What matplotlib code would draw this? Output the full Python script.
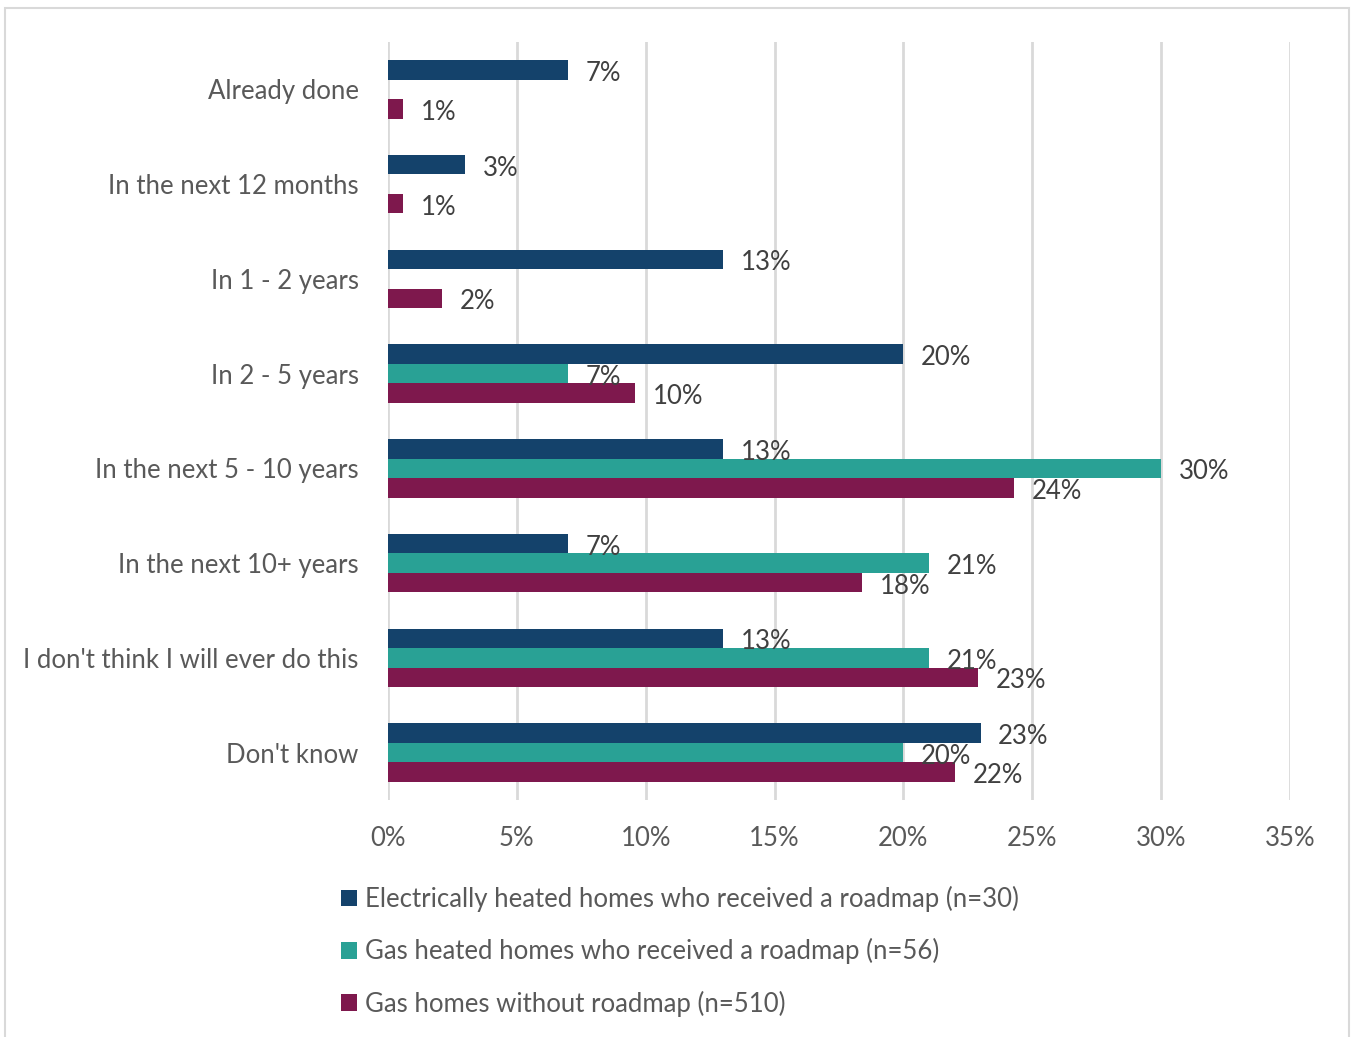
import numpy as np
import matplotlib.pyplot as plt
from matplotlib.patches import Rectangle

# survey answers: when do people expect to switch heating system
categories = ["Already done", "In the next 12 months", "In 1 - 2 years", "In 2 - 5 years",
              "In the next 5 - 10 years", "In the next 10+ years",
              "I don't think I will ever do this", "Don't know"]

electric_roadmap = [7, 3, 13, 20, 13, 7, 13, 23]
gas_roadmap = [np.nan, np.nan, np.nan, 7, 30, 21, 21, 20]   # no answers for the first three
gas_no_roadmap = [0.6, 0.6, 2.1, 9.6, 24.3, 18.4, 22.9, 22.0]

series_names = ["Electrically heated homes who received a roadmap (n=30)",
                "Gas heated homes who received a roadmap (n=56)",
                "Gas homes without roadmap (n=510)"]
colors = ["#14426B", "#29A195", "#7E184D"]

plt.rcParams['font.family'] = ['Lato', 'DejaVu Sans']
fs = 18.5
label_col = "#595959"
value_col = "#404040"

fig = plt.figure(figsize=(13.52, 10.37), dpi=100)
ax = fig.add_axes([388/1352, 1 - 800/1037, (1290 - 388)/1352, (800 - 42)/1037])

y = np.arange(len(categories))
h = 0.2055
bars = []
for k, (vals, col) in enumerate(zip([electric_roadmap, gas_roadmap, gas_no_roadmap], colors)):
    pos = y + (k - 1) * h
    b = ax.barh(pos, vals, height=h, color=col, label=series_names[k])
    bars.append(b)
    for p, v in zip(pos, vals):
        if np.isnan(v):
            continue
        ax.annotate(f"{v:.0f}%", (v, p), xytext=(12.5, -2.5), textcoords="offset points",
                    va="center", ha="left", fontsize=fs, color=value_col)

ax.set_xlim(0, 35)
ax.set_ylim(len(categories) - 0.5, -0.5)
ax.set_xticks(np.arange(0, 36, 5))
ax.set_xticklabels([f"{t}%" for t in range(0, 36, 5)])
ax.set_yticks(y)
ax.set_yticklabels(categories)
ax.tick_params(axis="both", length=0, labelsize=fs, labelcolor=label_col)
ax.tick_params(axis="x", pad=19)
ax.tick_params(axis="y", pad=21)

ax.grid(axis="x", color="#D9D9D9", linewidth=2)
ax.set_axisbelow(True)
for s in ax.spines.values():
    s.set_visible(False)

leg = ax.legend(handles=bars, loc="upper left", bbox_to_anchor=(341/1352, 1 - 886/1037),
                bbox_transform=fig.transFigure, frameon=False, fontsize=fs,
                handlelength=0.62, handleheight=0.62, handletextpad=0.3,
                labelspacing=1.02, borderpad=0, borderaxespad=0)
for t in leg.get_texts():
    t.set_color(label_col)

# light frame round the whole chart
fig.patches.append(Rectangle((5/1352, -0.05), (1349 - 5)/1352, 1.05 - 8/1037,
                             transform=fig.transFigure, fill=False,
                             edgecolor="#D9D9D9", linewidth=1.5))

fig.savefig("out.png", dpi=100)
